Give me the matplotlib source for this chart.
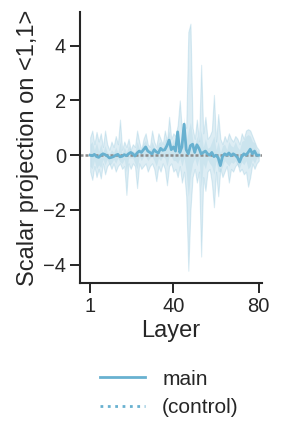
import numpy as np
import matplotlib
matplotlib.use('Agg')
import matplotlib.pyplot as plt

plt.rcParams['font.family'] = ['Liberation Sans', 'DejaVu Sans']

# layer index 1..80
layers = np.arange(1, 81)

# mean scalar projection per layer (main)
main_mean = [
    0.0, -0.02, 0.03, -0.05, -0.08, 0.0, 0.05, 0.02, -0.03, -0.1,
    -0.08, -0.05, 0.0, 0.03, -0.06, -0.04, 0.02, -0.02, 0.05, 0.1,
    0.05, -0.03, 0.08, 0.15, 0.1, 0.2, 0.3, 0.15, 0.1, 0.05,
    0.2, 0.12, 0.08, 0.25, 0.18, 0.2, 0.35, 0.55, 0.2, 0.3,
    0.15, 0.85, 0.1, 0.3, 1.13, 0.2, 0.05, 0.35, 0.4, 0.1,
    0.38, 0.25, 0.05, 0.1, 0.15, 0.05, 0.0, 0.1, -0.05, 0.0,
    -0.1, -0.38, -0.05, 0.05, 0.0, 0.08, -0.02, 0.05, 0.0, -0.08,
    -0.25, -0.05, 0.05, 0.0, 0.1, 0.22, 0.05, 0.15, 0.0, 0.0,
]

# spread across runs (wide, spiky)
upper_a = [
    0.65, 0.9, 0.4, 0.85, 0.5, 0.8, 0.3, 0.9, 0.4, 0.2,
    0.5, 0.3, 0.7, 0.4, 1.3, 0.2, 0.5, 0.3, 0.6, 0.2,
    0.4, 0.3, 0.9, 0.5, 0.2, 0.6, 0.8, 0.4, 0.3, 0.9,
    0.5, 0.3, 0.8, 0.6, 0.4, 0.9, 0.5, 1.4, 0.6, 0.8,
    0.7, 1.1, 2.0, 0.9, 1.2, 1.0, 4.5, 4.8, 1.0, 0.6,
    1.3, 0.5, 3.3, 0.8, 1.4, 0.6, 0.7, 0.9, 2.2, 0.5,
    1.5, 0.6, 0.4, 0.7, 0.5, 0.8, 0.6, 0.5, 0.7, 0.6,
    0.4, 0.8, 0.6, 0.9, 0.95, 0.9, 0.7, 0.5, 0.3, 0.2,
]
lower_a = [
    -0.6, -0.9, -0.4, -0.8, -0.5, -0.85, -0.3, -0.7, -0.4, -0.3,
    -0.5, -0.3, -0.6, -0.4, -0.3, -0.5, -0.4, -1.45, -0.3, -0.5,
    -0.3, -0.4, -1.2, -0.3, -0.5, -0.4, -0.3, -0.6, -0.4, -0.3,
    -0.5, -0.95, -0.4, -0.6, -0.3, -0.5, -1.1, -0.4, -0.3, -0.6,
    -0.5, -0.8, -0.4, -1.0, -0.6, -1.5, -4.22, -2.0, -0.8, -0.5,
    -1.0, -0.6, -3.7, -0.8, -1.3, -0.6, -0.5, -1.0, -1.9, -0.6,
    -1.5, -0.5, -0.8, -0.6, -0.4, -1.0, -0.5, -0.6, -0.4, -0.3,
    -0.6, -0.5, -0.7, -0.6, -1.15, -0.8, -0.3, -0.5, -0.3, -0.2,
]

# confidence band (narrower)
upper_b = [
    0.4, 0.5, 0.2, 0.45, 0.15, 0.4, 0.1, 0.35, 0.1, 0.05,
    0.2, 0.1, 0.3, 0.1, 0.5, 0.05, 0.3, 0.1, 0.35, 0.2,
    0.15, 0.1, 0.5, 0.25, 0.2, 0.45, 0.55, 0.25, 0.2, 0.5,
    0.3, 0.2, 0.45, 0.5, 0.3, 0.55, 0.6, 0.9, 0.35, 0.6,
    0.3, 1.0, 0.4, 0.6, 1.4, 0.5, 0.9, 1.2, 0.6, 0.3,
    0.7, 0.4, 0.9, 0.3, 0.6, 0.25, 0.3, 0.5, 0.7, 0.2,
    0.5, 0.1, 0.35, 0.4, 0.2, 0.5, 0.35, 0.3, 0.5, 0.3,
    0.2, 0.5, 0.55, 0.7, 0.75, 0.7, 0.5, 0.45, 0.2, 0.1,
]
lower_b = [
    -0.4, -0.5, -0.2, -0.5, -0.35, -0.45, -0.15, -0.35, -0.15, -0.35,
    -0.3, -0.15, -0.3, -0.1, -0.25, -0.3, -0.15, -0.6, -0.1, -0.1,
    -0.1, -0.3, -0.5, -0.05, -0.2, -0.05, -0.05, -0.2, -0.1, -0.05,
    -0.2, -0.4, -0.1, -0.2, -0.05, -0.1, -0.4, -0.05, -0.05, -0.2,
    -0.2, -0.3, -0.1, -0.4, -0.1, -0.6, -1.5, -0.7, -0.3, -0.1,
    -0.4, -0.1, -1.2, -0.3, -0.5, -0.15, -0.3, -0.4, -0.7, -0.2,
    -0.6, -0.6, -0.4, -0.2, -0.3, -0.4, -0.25, -0.3, -0.2, -0.4,
    -0.45, -0.25, -0.35, -0.2, -0.5, -0.4, -0.15, -0.3, -0.1, -0.1,
]

xticks = [1, 40, 80]
yticks = [-4, -2, 0, 2, 4]

color = '#68b1d0'
ink = '#262626'

fig = plt.figure(figsize=(2.82, 4.41), dpi=100)
ax = fig.add_axes([0.284, 0.358, 0.645, 0.615])

ax.fill_between(layers, lower_a, upper_a, color=color, alpha=0.22, lw=0.8)
ax.fill_between(layers, lower_b, upper_b, color=color, alpha=0.15, lw=0)
ax.axhline(0, color='#8c8c8c', ls=(0, (1.2, 0.8)), lw=1.8)
ax.plot(layers, main_mean, color=color, lw=2)

ax.set_xlim(-3.7, 81.5)
ax.set_ylim(-4.67, 5.23)
ax.set_xticks(xticks)
ax.set_yticks(yticks)
ax.set_yticklabels(['\u22124', '\u22122', '0', '2', '4'])
ax.set_xlabel('Layer', fontsize=17, color=ink, labelpad=3)
ax.set_ylabel('Scalar projection on <1,1>', fontsize=17, color=ink, labelpad=3)
ax.tick_params(labelsize=14.5, colors=ink, length=7, width=1.4, pad=3)
for s in ['top', 'right']:
    ax.spines[s].set_visible(False)
for s in ['left', 'bottom']:
    ax.spines[s].set_linewidth(1.5)
    ax.spines[s].set_color(ink)

handles = [
    plt.Line2D([], [], color=color, lw=2),
    plt.Line2D([], [], color=color, lw=2, ls=':'),
]
fig.legend(handles, ['main', '(control)'], loc='center',
           bbox_to_anchor=(0.6, 0.108), frameon=False, fontsize=15,
           handlelength=2.2, handletextpad=0.8, labelspacing=0.45,
           labelcolor=ink)

fig.savefig('out.png', dpi=100)
